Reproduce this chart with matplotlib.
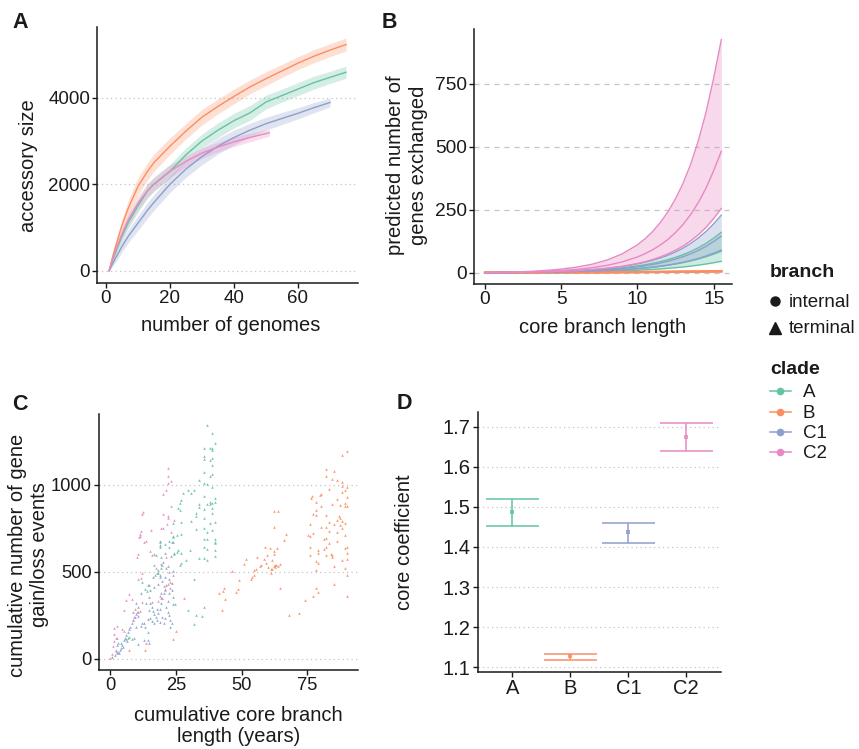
import matplotlib
matplotlib.use('Agg')
import matplotlib.pyplot as plt
from matplotlib.lines import Line2D

plt.rcParams['font.family'] = ['Liberation Sans', 'DejaVu Sans']
plt.rcParams['xtick.labelsize'] = 13.2
plt.rcParams['ytick.labelsize'] = 13.2

clades = ['A', 'B', 'C1', 'C2']
colors = {'A': '#66C2A5', 'B': '#FC8D62', 'C1': '#8DA0CB', 'C2': '#E78AC3'}

# ---------------- Panel A : accessory genome rarefaction ----------------
n_A = [1, 2, 3, 5, 7, 10, 13, 15, 20, 25, 30, 35, 40, 45, 50, 55, 60, 65, 70, 75]
acc_A_mid = [0, 230, 430, 800, 1120, 1500, 1850, 2000, 2300, 2680, 3000, 3250, 3470, 3650, 3900, 4050, 4200, 4350, 4470, 4590]
acc_A_lo = [0, 170, 350, 680, 980, 1350, 1690, 1840, 2140, 2520, 2840, 3080, 3300, 3480, 3740, 3900, 4050, 4200, 4330, 4450]
acc_A_hi = [0, 290, 510, 920, 1260, 1650, 2010, 2160, 2460, 2840, 3160, 3420, 3640, 3820, 4060, 4200, 4350, 4500, 4610, 4730]

n_B = [1, 2, 3, 5, 7, 10, 13, 15, 20, 25, 30, 35, 40, 45, 50, 55, 60, 65, 70, 75]
acc_B_mid = [0, 300, 560, 1050, 1450, 1950, 2300, 2500, 2880, 3230, 3550, 3800, 4030, 4250, 4440, 4620, 4800, 4960, 5100, 5230]
acc_B_lo = [0, 240, 460, 900, 1270, 1750, 2100, 2300, 2690, 3050, 3370, 3630, 3860, 4090, 4280, 4470, 4650, 4810, 4950, 5080]
acc_B_hi = [0, 360, 660, 1200, 1630, 2150, 2500, 2700, 3070, 3410, 3730, 3970, 4200, 4410, 4600, 4770, 4950, 5110, 5250, 5380]

n_C1 = [1, 2, 3, 5, 7, 10, 13, 15, 20, 25, 30, 35, 40, 45, 50, 55, 60, 65, 70]
acc_C1_mid = [0, 150, 290, 560, 800, 1100, 1400, 1580, 2000, 2350, 2640, 2880, 3080, 3250, 3400, 3520, 3640, 3770, 3890]
acc_C1_lo = [0, 90, 200, 430, 650, 930, 1220, 1400, 1810, 2160, 2450, 2700, 2910, 3090, 3250, 3380, 3510, 3650, 3790]
acc_C1_hi = [0, 210, 380, 690, 950, 1270, 1580, 1760, 2190, 2540, 2830, 3060, 3250, 3410, 3550, 3660, 3770, 3890, 3990]

n_C2 = [1, 2, 3, 5, 7, 10, 13, 15, 20, 25, 30, 35, 40, 45, 51]
acc_C2_mid = [0, 250, 470, 850, 1180, 1560, 1850, 2000, 2300, 2530, 2720, 2860, 2980, 3080, 3190]
acc_C2_lo = [0, 190, 380, 730, 1040, 1400, 1690, 1840, 2150, 2400, 2600, 2750, 2870, 2980, 3110]
acc_C2_hi = [0, 310, 560, 970, 1320, 1720, 2010, 2160, 2450, 2660, 2840, 2970, 3090, 3180, 3270]

# ---------------- Panel B : predicted genes exchanged ----------------
core_len = [0, 1, 2, 3, 4, 5, 6, 7, 8, 9, 10, 10.5, 11, 11.5, 12, 12.5, 13, 13.5, 14, 14.5, 15, 15.5]
pred_A_lo = [0, 0.2, 0.5, 0.9, 1.4, 2.0, 2.8, 3.9, 5.4, 7.3, 9.7, 11.2, 12.9, 14.9, 17.2, 19.8, 22.7, 26.1, 30, 34.4, 39.5, 45]
pred_A_mid = [0, 0.3, 0.7, 1.2, 1.9, 2.9, 4.2, 5.9, 8.3, 11.5, 15.7, 18.4, 21.5, 25.2, 29.4, 34.3, 40, 46.6, 54.2, 63.1, 73.4, 85]
pred_A_hi = [0, 0.4, 1.0, 1.8, 2.9, 4.5, 6.6, 9.5, 13.5, 19.1, 26.7, 31.6, 37.3, 43.9, 51.7, 60.9, 71.7, 84.3, 99.1, 116.5, 137, 160]
pred_B_lo = [0, 0.11, 0.23, 0.37, 0.53, 0.7, 0.9, 1.1, 1.35, 1.6, 1.95, 2.1, 2.3, 2.5, 2.7, 2.9, 3.1, 3.35, 3.6, 3.9, 4.2, 4.6]
pred_B_mid = [0, 0.13, 0.27, 0.43, 0.62, 0.82, 1.05, 1.3, 1.6, 1.9, 2.3, 2.5, 2.7, 2.95, 3.2, 3.45, 3.7, 4.0, 4.3, 4.65, 5.0, 5.4]
pred_B_hi = [0, 0.15, 0.3, 0.5, 0.7, 0.95, 1.2, 1.5, 1.85, 2.2, 2.65, 2.85, 3.1, 3.4, 3.7, 4.0, 4.3, 4.65, 5.0, 5.4, 5.8, 6.2]
pred_C1_lo = [0, 0.3, 0.6, 1.2, 1.8, 2.8, 4.1, 5.8, 8.2, 11.4, 15.8, 18.6, 21.9, 25.7, 30.1, 35.3, 41.3, 48.4, 56.6, 66.3, 77.5, 90]
pred_C1_mid = [0, 0.3, 0.8, 1.5, 2.4, 3.7, 5.5, 8.0, 11.5, 16.3, 23.0, 27.3, 32.4, 38.4, 45.4, 53.8, 63.5, 75.1, 88.6, 104.7, 123.7, 145]
pred_C1_hi = [0, 0.5, 1.2, 2.1, 3.4, 5.3, 8.0, 11.7, 16.9, 24.2, 34.5, 41.1, 48.9, 58.1, 69, 82.1, 97.7, 116.1, 138, 163.8, 194, 228]
pred_C2_lo = [0, 0.5, 1.2, 2.1, 3.5, 5.4, 8.1, 12.0, 17.5, 25.3, 36.4, 43.6, 52.2, 62.4, 74.6, 89.1, 106, 126.6, 151, 180, 215, 255]
pred_C2_mid = [0, 0.7, 1.7, 3.2, 5.4, 8.5, 13.0, 19.5, 28.9, 42.6, 62.3, 75.3, 91, 109.8, 132, 159.5, 192, 231.5, 279, 336, 405, 482]
pred_C2_hi = [0, 1.1, 2.8, 5.2, 8.8, 14.1, 21.8, 33.2, 49.9, 74.5, 110.6, 134.6, 163.7, 199, 241.7, 293.5, 356, 432, 525, 637, 773, 925]

# ---------------- Panel C : cumulative gain/loss vs core branch length ----------------
pts_A = [(36.9,1343),(38.9,1297),(39.8,1238),(35.8,1209),(37.8,1209),(38.9,1209),(38.9,1200),(35.8,1163),(35.8,1150),
         (37.8,1141),(38.9,1153),(38.9,1113),(35.8,1075),(37.8,1051),(38.9,1060),(33.8,1027),(35.8,1008),(36.9,1006),
         (38.9,987),(29.6,968),(31.8,968),(30.7,952),(27.6,952),(35.8,933),(39.8,926),(27.0,909),(26.5,897),(37.8,900),
         (38.9,895),(37.8,888),(39.8,898),(36.9,886),(33.8,886),(33.8,870),(35.8,858),(38.9,866),(25.7,868),(26.5,852),
         (32.8,837),(32.8,822),(38.9,838),(30.7,791),(35.8,806),(37.8,778),(39.9,788),(27.0,784),(24.0,778),(32.8,746),
         (35.8,753),(36.9,726),(38.9,741),(25.3,708),(24.1,706),(27.0,719),(35.8,688),(36.9,685),(39.8,685),(39.8,672),
         (24.0,697),(23.5,670),(18.9,675),(18.9,653),(21.0,659),(22.4,643),(22.4,674),(26.0,623),(26.9,607),(25.5,613),
         (29.0,567),(26.9,548),(26.5,538),(24.3,601),(24.3,610),(35.7,640),(36.7,628),(39.8,666),(39.8,625),(39.8,590),
         (33.9,578),(35.7,576),(36.7,569),(30.3,625),(17.6,593),(16.8,601),(19.4,585),(16.8,537),(18.3,510),(19.4,544),
         (19.4,521),(21.4,521),(18.1,491),(18.9,481),(13.2,401),(14.7,422),(14.2,387),(12.2,439),(17.0,479),(24.7,316),
         (31.8,456),(29.8,278),(32.8,253),(34.8,244),(35.8,298),(31.8,201),(6.7,121),(7.2,127),(6.0,111),(14.4,153),
         (15.1,231),(3.2,88)]
pts_B = [(90.0,1194),(88.3,1170),(82.2,1088),(85.2,1079),(82.2,1050),(84.2,1031),(86.2,1029),(88.3,1016),(88.3,993),
         (89.2,970),(88.3,955),(90.0,985),(83.2,976),(80.2,946),(79.7,940),(76.6,934),(76.3,923),(86.2,920),(90.0,929),
         (78.1,903),(80.2,880),(84.2,887),(87.3,883),(89.2,893),(89.2,878),(90.0,878),(78.1,856),(77.1,833),(78.1,827),
         (82.2,826),(87.0,818),(87.3,806),(86.2,797),(88.3,793),(89.2,782),(83.2,788),(80.2,759),(82.2,759),(76.1,776),
         (85.2,774),(87.3,770),(88.1,753),(83.2,736),(86.2,730),(89.2,713),(77.1,721),(76.1,705),(75.1,711),(81.2,688),
         (82.2,695),(86.2,678),(83.2,663),(66.7,716),(66.2,682),(62.4,847),(63.9,850),(62.2,755),(58.9,644),(60.6,636),
         (63.4,638),(62.2,621),(62.2,602),(59.7,594),(58.6,575),(55.9,582),(51.5,575),(50.8,546),(57.4,539),(57.1,531),
         (59.1,548),(60.2,525),(61.2,513),(61.4,567),(62.2,533),(62.7,540),(63.2,540),(63.7,533),(64.5,544),(62.7,525),
         (61.7,517),(61.2,490),(55.3,517),(54.6,510),(53.6,460),(54.1,471),(54.6,479),(49.0,452),(48.8,402),(48.0,385),
         (46.2,502),(64.7,408),(74.1,337),(68.0,251),(71.6,264),(75.9,640),(76.1,598),(78.1,564),(79.1,625),(79.1,608),
         (81.2,628),(82.2,640),(84.2,598),(84.2,583),(84.0,604),(88.0,567),(89.2,634),(90.0,644),(90.0,609),(90.0,571),
         (89.2,523),(90.0,481),(85.2,533),(82.2,598),(79.1,548),(78.1,510),(78.1,405),(79.1,382),(77.1,363),(85.2,431),
         (90.0,363),(9.3,284),(22.9,443),(24.9,161),(23.9,113),(13.8,88),(13.3,50),(7.2,50),(28.0,347),(41.3,376),
         (42.8,391),(43.3,408),(43.8,341),(42.7,278)]
pts_C1 = [(0.6,12),(1.8,21),(2.7,31),(3.2,40),(3.7,50),(4.2,63),(4.7,79),(4.2,92),(5.2,107),(5.7,121),(6.2,136),
          (6.7,155),(7.2,169),(7.7,184),(8.2,203),(8.7,222),(9.2,238),(9.8,257),(8.7,268),(10.6,299),(11.6,376),(9.8,318),
          (10.8,268),(10.8,245),(12.8,207),(12.3,203),(14.3,226),(13.3,180),(14.8,280),(11.8,188),(9.9,184),(15.3,322),
          (15.8,299),(16.3,276),(16.8,257),(17.3,241),(17.9,222),(18.4,261),(18.9,283),(19.4,318),(19.9,347),(20.4,376),
          (20.9,395),(21.4,299),(21.9,270),(22.4,249),(22.9,222),(23.4,203),(22.9,184),(21.9,333),(20.9,236),(17.9,283),
          (16.8,203),(15.8,218),(14.8,352),(13.8,322),(18.9,213),(19.9,241),(20.4,207),(19.4,376),(22.4,376),(23.4,395),
          (23.9,353),(23.4,433),(22.4,456),(21.4,424),(19.9,448),(18.4,429),(16.8,414),(15.3,395),(14.3,424),(16.3,471),
          (18.9,467),(20.9,471),(23.9,314),(18.9,672),(23.9,669),(19.0,640),(21.0,610),(23.0,590),(20.0,555),(22.0,530),
          (24.0,505),(18.0,495),(2.7,79),(8.2,111),(9.2,119),(10.8,84),(12.8,107),(14.3,109),(14.8,88),(3.5,35),(2.2,45),
          (5.0,70),(6.5,100)]
pts_C2 = [(22.2,1096),(22.2,1052),(22.2,1008),(23.2,1023),(21.2,970),(20.2,945),(23.2,879),(12.5,841),(12.0,833),
          (20.2,831),(22.2,818),(22.2,806),(24.2,799),(21.7,772),(20.2,749),(11.8,734),(11.3,718),(11.3,703),(11.0,699),
          (15.6,741),(19.2,753),(13.0,670),(23.2,730),(13.8,674),(15.3,619),(15.8,598),(10.8,600),(10.3,586),(12.3,493),
          (11.8,466),(10.8,460),(7.2,370),(8.2,343),(6.2,335),(5.2,280),(10.1,268),(9.6,241),(8.7,222),(11.3,276),
          (12.3,326),(15.8,326),(18.4,332),(20.4,420),(22.4,496),(21.9,429),(20.9,398),(18.9,360),(19.4,347),(22.9,406),
          (23.9,481),(1.6,140),(2.2,121),(1.6,102),(1.1,71),(2.2,52),(0.6,25),(2.7,188),(5.2,159),(4.7,172),(0.1,6),
          (1.6,178),(2.6,121),(21.4,582),(19.9,540),(17.4,520)]

# ---------------- Panel D : core coefficient ----------------
coef_mean = [1.486, 1.127, 1.436, 1.674]
coef_lo = [1.452, 1.119, 1.410, 1.639]
coef_hi = [1.519, 1.134, 1.460, 1.709]

# ======================================================================
TXT = '#1a1a1a'
GRID = '#c4c4c4'
fig = plt.figure(figsize=(8.59, 7.49), dpi=100)


def px_axes(l, t, r, b):
    return fig.add_axes([l / 859, 1 - b / 749, (r - l) / 859, (b - t) / 749])


def style(ax, ls):
    for s in ['top', 'right']:
        ax.spines[s].set_visible(False)
    for s in ['left', 'bottom']:
        ax.spines[s].set_linewidth(1.1)
        ax.spines[s].set_color(TXT)
    ax.tick_params(length=3.5, width=1.0, colors=TXT, labelsize=13.2, pad=1.5)
    ax.yaxis.grid(True, color=GRID, lw=0.9, ls=ls)
    ax.set_axisbelow(True)


def finish_ticks(ax, size=13.2):
    for lab in ax.get_xticklabels() + ax.get_yticklabels():
        lab.set_fontsize(size)
        lab.set_color(TXT)


DOT = (0, (1, 2.6))
DASH = (0, (4, 4))

# ---- A ----
axA = px_axes(97, 27, 358, 283)
style(axA, DOT)
dataA = {'A': (n_A, acc_A_lo, acc_A_mid, acc_A_hi), 'B': (n_B, acc_B_lo, acc_B_mid, acc_B_hi),
         'C1': (n_C1, acc_C1_lo, acc_C1_mid, acc_C1_hi), 'C2': (n_C2, acc_C2_lo, acc_C2_mid, acc_C2_hi)}
for c in clades:
    n, lo, mid, hi = dataA[c]
    axA.fill_between(n, lo, hi, color=colors[c], alpha=0.28, lw=0)
for c in clades:
    n, lo, mid, hi = dataA[c]
    axA.plot(n, mid, color=colors[c], lw=1.0)
axA.set_xlim(-2.8, 78.75)
axA.set_ylim(-284, 5635)
axA.set_xticks([0, 20, 40, 60])
axA.set_yticks([0, 2000, 4000])
finish_ticks(axA, 13.5)
axA.set_xlabel('number of genomes', fontsize=14.5, color=TXT)
axA.set_ylabel('accessory size', fontsize=14.5, color=TXT)
axA.xaxis.set_label_coords(0.513, -0.13)
axA.yaxis.set_label_coords(-0.225, 0.457)

# ---- B ----
axB = px_axes(474, 29, 732, 284)
style(axB, DASH)
dataB = {'A': (pred_A_lo, pred_A_mid, pred_A_hi), 'B': (pred_B_lo, pred_B_mid, pred_B_hi),
         'C1': (pred_C1_lo, pred_C1_mid, pred_C1_hi), 'C2': (pred_C2_lo, pred_C2_mid, pred_C2_hi)}
for c in clades:
    lo, mid, hi = dataB[c]
    axB.fill_between(core_len, lo, hi, color=colors[c], alpha=0.32, lw=0)
    lw = 1.6 if c == 'B' else 1.0
    for arr in (lo, mid, hi):
        axB.plot(core_len, arr, color=colors[c], lw=lw)
axB.set_xlim(-0.72, 16.2)
axB.set_ylim(-45, 967)
axB.set_xticks([0, 5, 10, 15])
axB.set_yticks([0, 250, 500, 750])
finish_ticks(axB, 13.8)
axB.set_xlabel('core branch length', fontsize=14.5, color=TXT)
axB.set_ylabel('predicted number of\ngenes exchanged', fontsize=14.5, color=TXT, linespacing=1.25)
axB.xaxis.set_label_coords(0.5, -0.133)
axB.yaxis.set_label_coords(-0.18, 0.467)

# ---- C ----
axC = px_axes(98.7, 414, 358, 670)
style(axC, DOT)
ptsC = {'A': pts_A, 'B': pts_B, 'C1': pts_C1, 'C2': pts_C2}
for c in clades:
    xs = [p[0] for p in ptsC[c]]
    ys = [p[1] for p in ptsC[c]]
    axC.scatter(xs, ys, s=3.5, marker='^', color=colors[c], alpha=0.9, linewidths=0)
axC.set_xlim(-4.3, 94.2)
axC.set_ylim(-65, 1406)
axC.set_xticks([0, 25, 50, 75])
axC.set_yticks([0, 500, 1000])
finish_ticks(axC, 13.2)
axC.set_xlabel('cumulative core branch\nlength (years)', fontsize=14.5, color=TXT, linespacing=1.15)
axC.set_ylabel('cumulative number of gene\ngain/loss events', fontsize=14.5, color=TXT, linespacing=1.25)
axC.xaxis.set_label_coords(0.538, -0.14)
axC.yaxis.set_label_coords(-0.19, 0.449)

# ---- D ----
axD = px_axes(477.7, 411.7, 721, 671.7)
style(axD, DOT)
xpos = [1, 2, 3, 4]
for i, c in enumerate(clades):
    x = xpos[i]
    axD.vlines(x, coef_lo[i], coef_hi[i], color=colors[c], lw=1.1)
    axD.hlines([coef_lo[i], coef_hi[i]], x - 0.46, x + 0.46, color=colors[c], lw=1.1)
    axD.plot([x], [coef_mean[i]], marker='s', ms=3.2, color=colors[c], alpha=0.85, mew=0)
axD.set_xlim(0.4, 4.6)
axD.set_ylim(1.089, 1.737)
axD.set_xticks(xpos)
axD.set_xticklabels(clades)
axD.set_yticks([1.1, 1.2, 1.3, 1.4, 1.5, 1.6, 1.7])
finish_ticks(axD, 14.5)
axD.set_ylabel('core coefficient', fontsize=14.5, color=TXT)
axD.yaxis.set_label_coords(-0.26, 0.5)

# ---- panel letters ----
for lab, x, y in [('A', 12, 28), ('B', 382, 28), ('C', 12, 410), ('D', 397, 409)]:
    fig.text(x / 859, 1 - y / 749, lab, fontsize=15.5, fontweight='bold', color=TXT, va='baseline', ha='left')


# ---- legend ----
def fx(x):
    return x / 859


def fy(y):
    return 1 - y / 749


fig.text(fx(770), fy(277), 'branch', fontsize=14, fontweight='bold', color=TXT, va='baseline')
fig.add_artist(Line2D([fx(774.5)], [fy(301.5)], marker='o', ms=6.5, color=TXT, transform=fig.transFigure, lw=0))
fig.text(fx(789), fy(307.3), 'internal', fontsize=13.5, color=TXT, va='baseline')
fig.add_artist(Line2D([fx(775)], [fy(327.5)], marker='^', ms=8, color=TXT, transform=fig.transFigure, lw=0))
fig.text(fx(789), fy(333.3), 'terminal', fontsize=13.5, color=TXT, va='baseline')

fig.text(fx(770), fy(374), 'clade', fontsize=14, fontweight='bold', color=TXT, va='baseline')
for c, yl in zip(clades, [390.7, 411.7, 431.7, 451.7]):
    fig.add_artist(Line2D([fx(770), fx(790.7)], [fy(yl), fy(yl)], color=colors[c], lw=1.1,
                          transform=fig.transFigure))
    fig.add_artist(Line2D([fx(780.3)], [fy(yl)], marker='o', ms=4.5, color=colors[c], lw=0,
                          transform=fig.transFigure))
    fig.text(fx(802.7), fy(yl + 6), c, fontsize=13.5, color=TXT, va='baseline')

fig.savefig('out.png', dpi=100)
